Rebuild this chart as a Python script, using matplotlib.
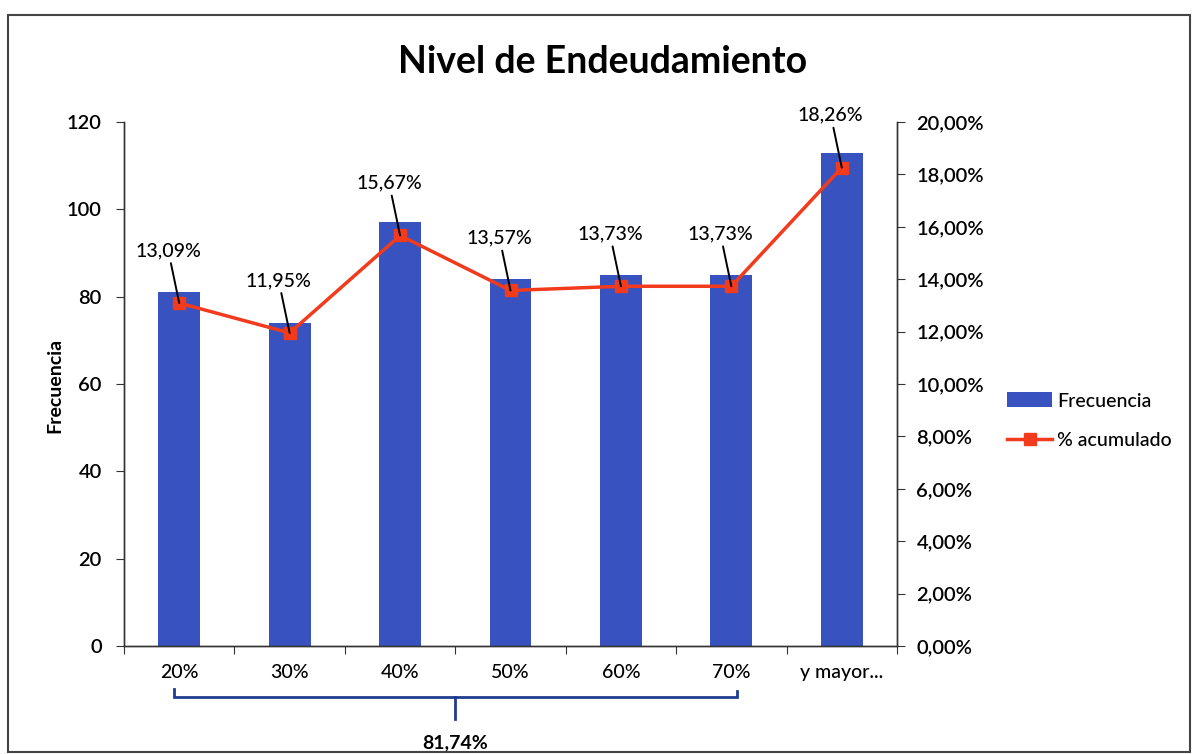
import matplotlib
matplotlib.use("Agg")
import matplotlib.pyplot as plt
import matplotlib.transforms as mtransforms
from matplotlib.ticker import FuncFormatter, MultipleLocator
from matplotlib.patches import Rectangle

plt.rcParams['font.family'] = ['Lato', 'DejaVu Sans']

categories = ["20%", "30%", "40%", "50%", "60%", "70%", "y mayor..."]
frecuencia = [81, 74, 97, 84, 85, 85, 113]
porcentaje = [13.09, 11.95, 15.67, 13.57, 13.73, 13.73, 18.26]
title = "Nivel de Endeudamiento"
bracket_n = 6  # first six classes grouped

bar_color = '#3852C0'
line_color = '#F23A1C'
axis_color = '#333333'
txt_w = 'medium'

fig = plt.figure(figsize=(11.96, 7.54), dpi=100)
ax = fig.add_axes([0.1037, 0.1432, 0.6463, 0.6950])
ax2 = ax.twinx()

x = list(range(len(categories)))
ax.bar(x, frecuencia, width=0.38, color=bar_color, label='Frecuencia', zorder=2)
ln, = ax2.plot(x, [p / 100 for p in porcentaje], color=line_color, lw=2.5,
               marker='s', markersize=8.5, markerfacecolor=line_color,
               markeredgecolor=line_color, label='% acumulado', zorder=3)

ax.set_xlim(-0.5, len(categories) - 0.5)
ax.set_ylim(0, 120)
ax.yaxis.set_major_locator(MultipleLocator(20))
ax2.set_ylim(0, 0.20)
ax2.yaxis.set_major_locator(MultipleLocator(0.02))
ax2.yaxis.set_major_formatter(FuncFormatter(lambda v, p: f"{v*100:.2f}%".replace('.', ',')))

# x ticks at category boundaries, labels at centers
ax.set_xticks([i + 0.5 for i in x[:-1]] + [-0.5, len(categories) - 0.5])
ax.set_xticklabels([])
ax.set_xticks(x, minor=True)
ax.set_xticklabels(categories, minor=True)
ax.tick_params(axis='x', which='minor', length=0, pad=13, labelsize=14)
ax.tick_params(axis='x', which='major', length=6, direction='out', color=axis_color)
for lab in ax.get_xticklabels(minor=True):
    lab.set_fontweight(txt_w)

ax.tick_params(axis='y', length=6, direction='out', labelsize=14.5, color=axis_color, pad=10)
ax2.tick_params(axis='y', length=6, direction='out', labelsize=14.5, color=axis_color, pad=8)
for lab in ax.get_yticklabels() + ax2.get_yticklabels():
    lab.set_fontweight('semibold')

for a in (ax, ax2):
    a.spines['top'].set_visible(False)
    for s in ('left', 'right', 'bottom'):
        a.spines[s].set_color(axis_color)
        a.spines[s].set_linewidth(1.0)

fig.text(55 / 1196, (754 - 385) / 754, 'Frecuencia', rotation=90, ha='center',
         va='center', fontsize=14, fontweight='bold')

# data labels with leader lines
for xi, p in zip(x, porcentaje):
    ax2.annotate(f"{p:.2f}%".replace('.', ','), xy=(xi, p / 100),
                 xytext=(-11, 44), textcoords='offset pixels',
                 ha='center', va='bottom', fontsize=14, fontweight=txt_w,
                 arrowprops=dict(arrowstyle='-', color='black', lw=1.4,
                                 shrinkA=1, shrinkB=0), zorder=4)

# legend
leg = ax.legend(handles=[ax.patches[0], ln], labels=['Frecuencia', '% acumulado'],
                loc='center left', bbox_to_anchor=(1.12, 0.43), frameon=False,
                fontsize=14, handlelength=2.3, handleheight=0.8, labelspacing=1.15,
                handletextpad=0.25)
for t in leg.get_texts():
    t.set_fontweight(txt_w)

# bracket below the first six categories
trans = mtransforms.blended_transform_factory(ax.transData, ax.transAxes)
x0, x1 = x[0] - 0.05, x[bracket_n - 1] + 0.05
ybr, ytop = -0.098, -0.082
ax.plot([x0, x0, x1, x1], [ytop, ybr, ybr, ytop - 0.004], transform=trans,
        color='#1F3C8F', lw=2, clip_on=False, solid_joinstyle='miter')
xm = (x[0] + x[bracket_n - 1]) / 2
ax.plot([xm, xm], [ybr, -0.140], transform=trans, color='#1F3C8F', lw=2, clip_on=False)
total = sum(porcentaje[:bracket_n])
ax.text(xm, -0.168, f"{total:.2f}%".replace('.', ','), transform=trans,
        ha='center', va='top', fontsize=14, fontweight='bold')

fig.text(0.504, 0.918, title, ha='center', va='center', fontsize=27, fontweight='bold')

# outer frame
fig.patches.append(Rectangle((8 / 1196, 2 / 754), 1182 / 1196, 737 / 754,
                             transform=fig.transFigure, fill=False,
                             edgecolor='#444444', lw=1.5))

fig.savefig('out.png', dpi=100)
